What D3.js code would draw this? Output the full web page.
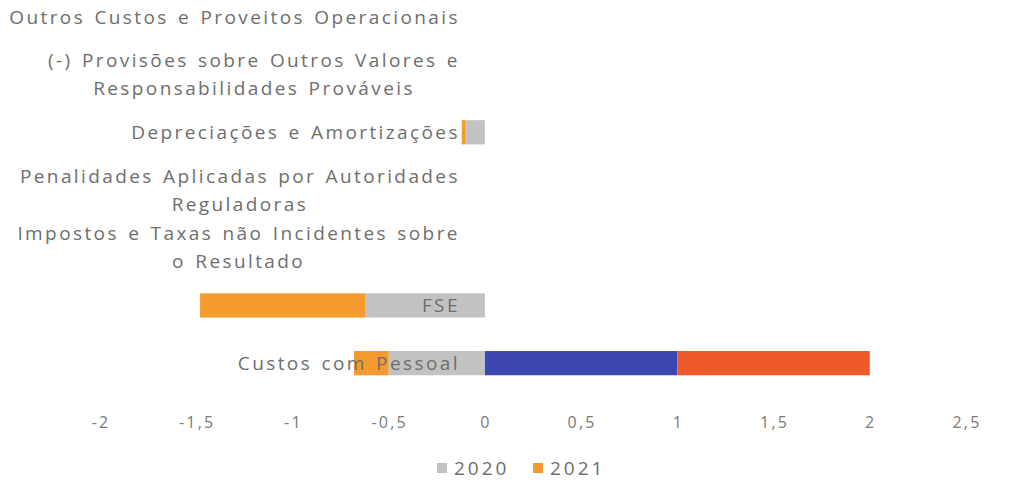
<!DOCTYPE html>
<html><head><meta charset="utf-8">
<script src="https://cdn.jsdelivr.net/npm/d3@7"></script>
<style>body{margin:0;background:#fff}svg{display:block}</style>
</head><body><svg id="c" width="1010" height="502"></svg>
<script>
const categories = [
  "Outros Custos e Proveitos Operacionais",
  "(-) Provisões sobre Outros Valores e\nResponsabilidades Prováveis",
  "Depreciações e Amortizações",
  "Penalidades Aplicadas por Autoridades\nReguladoras",
  "Impostos e Taxas não Incidentes sobre\no Resultado",
  "FSE",
  "Custos com Pessoal"
];
const v2020 = [0, 0, -0.1, 0, 0, -0.62, -0.5];
const v2021 = [0, 0, -0.02, 0, 0, -0.86, -0.18];
const vExtraA = [0, 0, 0, 0, 0, 0, 1];
const vExtraB = [0, 0, 0, 0, 0, 0, 1];
const ticks = [-2, -1.5, -1, -0.5, 0, 0.5, 1, 1.5, 2, 2.5];
const legendLabels = ["2020", "2021"];

const series = [
  {key: "2020", values: v2020, color: "#c2c2c2"},
  {key: "2021", values: v2021, color: "#f59a2c"},
  {key: "A", values: vExtraA, color: "#3d47b2"},
  {key: "B", values: vExtraB, color: "#ef5a2b"}
];

const svg = d3.select("#c");
const x = d3.scaleLinear().domain([-2, 2.5]).range([100, 966]);
const y = d3.scaleBand().domain(categories).range([-12, 392]).paddingInner(0.58).paddingOuter(0.29);

const negAcc = categories.map(() => 0), posAcc = categories.map(() => 0);
const rects = [];
series.forEach(s => {
  s.values.forEach((v, i) => {
    if (v === 0) return;
    let a, b;
    if (v < 0) { a = negAcc[i]; b = a + v; negAcc[i] = b; }
    else { a = posAcc[i]; b = a + v; posAcc[i] = b; }
    rects.push({cat: categories[i], a, b, color: s.color});
  });
});

svg.append("g").selectAll("rect").data(rects).join("rect")
  .attr("x", d => x(Math.min(d.a, d.b)))
  .attr("width", d => Math.abs(x(d.b) - x(d.a)))
  .attr("y", d => y(d.cat))
  .attr("height", y.bandwidth())
  .attr("fill", d => d.color);

const labelG = svg.append("g").attr("font-family", "Open Sans, sans-serif")
  .attr("font-size", 19).attr("fill", "#6e6e6e").attr("letter-spacing", 2.4).attr("word-spacing", 2);
categories.forEach(c => {
  const lines = c.split("\n");
  const cy = y(c) + y.bandwidth() / 2;
  const lh = 28;
  const t = labelG.append("text").attr("text-anchor", "middle");
  lines.forEach((ln, k) => {
    t.append("tspan").attr("x", 0).attr("y", cy + (k - (lines.length - 1) / 2) * lh).attr("dy", "0.35em").text(ln);
  });
  const bb = t.node().getBBox();
  t.attr("transform", `translate(${x(0) - 25 - bb.width / 2},0)`);
});

const fmt = v => d3.format("")(v).replace(".", ",").replace("−", "-");
svg.append("g").attr("font-family", "Open Sans, sans-serif").attr("font-size", 16)
  .attr("fill", "#7a7a7a").attr("letter-spacing", 2.2)
  .selectAll("text").data(ticks).join("text")
  .attr("x", d => x(d) + 1).attr("y", 428).attr("text-anchor", "middle").text(fmt);

const lg = svg.append("g").attr("font-family", "Open Sans, sans-serif").attr("font-size", 19)
  .attr("fill", "#6e6e6e").attr("letter-spacing", 3);
const lx = [437, 533];
legendLabels.forEach((l, i) => {
  lg.append("rect").attr("x", lx[i]).attr("y", 463).attr("width", 10).attr("height", 10).attr("fill", series[i].color);
  lg.append("text").attr("x", lx[i] + 17).attr("y", 468).attr("dy", "0.35em").text(l);
});
</script></body></html>
